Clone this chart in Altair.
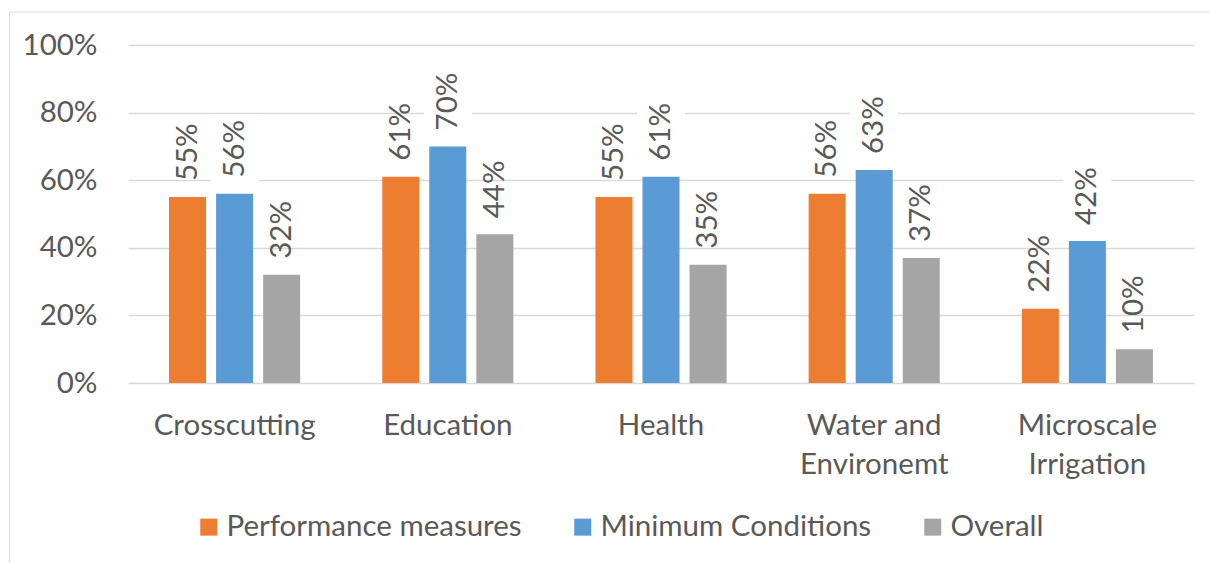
import altair as alt
import pandas as pd

# Categories, series and their percentage scores
categories = ["Crosscutting", "Education", "Health", "Water and Environemt", "Microscale Irrigation"]
label_lines = {
    "Water and Environemt": ["Water and", "Environemt"],
    "Microscale Irrigation": ["Microscale", "Irrigation"],
}
series = ["Performance measures", "Minimum Conditions", "Overall"]
performance = [55, 61, 55, 56, 22]
minimum = [56, 70, 61, 63, 42]
overall = [32, 44, 35, 37, 10]
colors = ["#ED7D31", "#5B9BD5", "#A5A5A5"]
tick_values = [0, 20, 40, 60, 80, 100]

rows = []
for name, vals in zip(series, [performance, minimum, overall]):
    for cat, v in zip(categories, vals):
        rows.append({"category": cat, "series": name, "value": v})
df = pd.DataFrame(rows)

FONT = "Lato"
SIZE = 29.5
TEXT = "#595959"
GRID = "#d9d9d9"

# Multi-line category labels
label_expr = "datum.label"
for cat, lines in label_lines.items():
    arr = "[" + ",".join("'" + l + "'" for l in lines) + "]"
    label_expr = f"datum.label == '{cat}' ? {arr} : ({label_expr})"

base = alt.Chart(df).encode(
    x=alt.X(
        "category:N",
        sort=categories,
        scale=alt.Scale(paddingInner=0.385, paddingOuter=0.1925),
        axis=alt.Axis(
            title=None, labelAngle=0, labelFont=FONT, labelFontSize=SIZE,
            labelColor=TEXT, labelPadding=28, ticks=False, domain=False,
            labelLineHeight=39, labelLimit=0, labelExpr=label_expr,
        ),
    ),
    xOffset=alt.XOffset(
        "series:N", sort=series,
        scale=alt.Scale(domain=series, paddingInner=0.213, paddingOuter=0),
    ),
)

bars = base.mark_bar().encode(
    y=alt.Y(
        "value:Q",
        scale=alt.Scale(domain=[0, 100]),
        axis=alt.Axis(
            title=None, values=tick_values, labelExpr="datum.value + '%'",
            labelFont=FONT, labelFontSize=SIZE, labelColor=TEXT, labelPadding=31,
            ticks=False, domain=False, gridColor=GRID, gridWidth=1.5,
        ),
    ),
    color=alt.Color(
        "series:N",
        scale=alt.Scale(domain=series, range=colors),
        legend=alt.Legend(
            orient="none", legendX=66, legendY=467, direction="horizontal",
            title=None, symbolType="square", symbolSize=289, symbolStrokeWidth=0,
            symbolOpacity=1, labelFont=FONT, labelFontSize=SIZE, labelColor=TEXT,
            labelOffset=3, columnPadding=46, padding=0, labelLimit=0,
        ),
    ),
)

# White label boxes behind the Minimum Conditions labels
boxes = base.transform_filter(
    alt.datum.series == "Minimum Conditions"
).transform_calculate(
    lo="datum.value + 3.5", hi="datum.value + 23.5"
).mark_bar(color="white", width=48).encode(
    y="lo:Q", y2="hi:Q"
)

labels = base.transform_calculate(
    label="datum.value + '%'"
).mark_text(
    angle=270, align="left", baseline="middle", font=FONT, fontSize=SIZE,
    color=TEXT, yOffset=-16,
).encode(y="value:Q", text="label:N")

# Light frame around the whole chart
frame = alt.Chart(alt.Data(values=[{}])).mark_rect(
    fillOpacity=0, stroke=GRID, strokeWidth=1
).encode(
    x=alt.value(-118.5), x2=alt.value(1400), y=alt.value(-33), y2=alt.value(800)
)

chart = alt.layer(frame, bars, boxes, labels).properties(
    width=1066,
    height=338,
    autosize=alt.AutoSizeParams(type="none"),
    padding={"left": 128, "top": 45, "right": 15, "bottom": 180},
    background="white",
).configure_view(stroke=None)

chart.save("out.html", embed_options={"renderer": "svg", "actions": False})
